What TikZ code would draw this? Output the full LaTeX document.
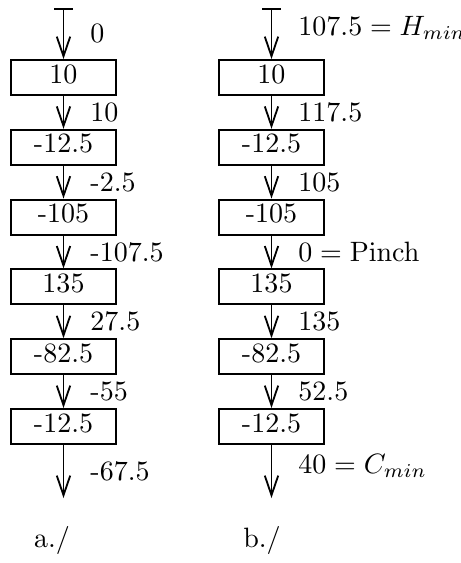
\documentclass[tikz,border=0pt]{standalone}
\usetikzlibrary{arrows.meta}

\begin{document}
\begin{tikzpicture}[
  x=0.357pt, y=-0.357pt,
  unit/.style={draw, line width=0.7pt, minimum width=37.5pt, minimum height=12.5pt,
               inner sep=0pt, text height=6.5pt, text depth=2.5pt},
  arr/.style={-{Straight Barb[length=7pt,width=4.8pt]}, line width=0.65pt},
  src/.style={{Bar[width=6.6pt]}-{Straight Barb[length=7pt,width=4.8pt]}, line width=0.65pt},
  lbl/.style={anchor=west, inner sep=0pt, xshift=9.3pt},
  panel/.style={font=\normalsize}
]
  \useasboundingbox (0,0) rectangle (461,563);

  % Left column a./ (x=63.5)
  \coordinate (a0) at (63.5,8);
  \node[unit] at (63.5,77.5)  (a1) {10};
  \node[unit] at (63.5,147.3) (a2) {-12.5};
  \node[unit] at (63.5,217.1) (a3) {-105};
  \node[unit] at (63.5,286.9) (a4) {135};
  \node[unit] at (63.5,356.7) (a5) {-82.5};
  \node[unit] at (63.5,426.5) (a6) {-12.5};
  \coordinate (a7) at (63.5,498);
  \node[panel] at (52,540) (apanel) {a.$/$};

  \draw[src] (a0) -- node[lbl]{0} (a1);
  \draw[arr] (a1) -- node[lbl]{10} (a2);
  \draw[arr] (a2) -- node[lbl]{-2.5} (a3);
  \draw[arr] (a3) -- node[lbl]{-107.5} (a4);
  \draw[arr] (a4) -- node[lbl]{27.5} (a5);
  \draw[arr] (a5) -- node[lbl]{-55} (a6);
  \draw[arr] (a6) -- node[lbl]{-67.5} (a7);

  % Right column b./ (x=271.5)
  \coordinate (b0) at (271.5,8);
  \node[unit] at (271.5,77.5)  (b1) {10};
  \node[unit] at (271.5,147.3) (b2) {-12.5};
  \node[unit] at (271.5,217.1) (b3) {-105};
  \node[unit] at (271.5,286.9) (b4) {135};
  \node[unit] at (271.5,356.7) (b5) {-82.5};
  \node[unit] at (271.5,426.5) (b6) {-12.5};
  \coordinate (b7) at (271.5,498);
  \node[panel] at (262,540) (bpanel) {b.$/$};

  \draw[src] (b0) -- node[lbl,yshift=2pt]{$107.5 = H_{min}$} (b1);
  \draw[arr] (b1) -- node[lbl]{117.5} (b2);
  \draw[arr] (b2) -- node[lbl]{105} (b3);
  \draw[arr] (b3) -- node[lbl]{$0 = \mathrm{Pinch}$} (b4);
  \draw[arr] (b4) -- node[lbl]{135} (b5);
  \draw[arr] (b5) -- node[lbl]{52.5} (b6);
  \draw[arr] (b6) -- node[lbl,yshift=2pt]{$40 = C_{min}$} (b7);

\end{tikzpicture}
\end{document}
